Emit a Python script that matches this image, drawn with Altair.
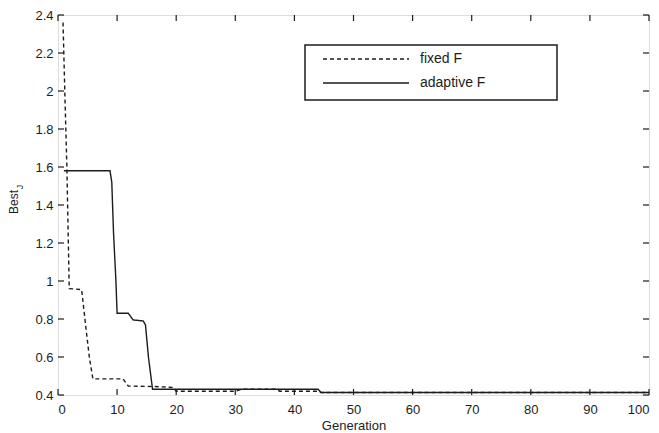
import altair as alt
import pandas as pd

fixed_gen = [0.85, 1.2, 1.5, 1.9, 4.0, 4.7, 5.3, 5.9, 11.0, 11.9, 16.0, 19.5, 20.0, 30.0, 31.0, 37.0, 37.5, 44.0, 44.5, 100.0]
fixed_val = [2.36, 1.94, 1.6, 0.96, 0.955, 0.76, 0.6, 0.485, 0.485, 0.447, 0.445, 0.44, 0.42, 0.42, 0.43, 0.43, 0.42, 0.42, 0.413, 0.413]
adaptive_gen = [1.0, 8.8, 9.1, 9.4, 9.8, 10.0, 11.9, 12.7, 14.4, 14.8, 15.3, 16.0, 44.0, 44.5, 100.0]
adaptive_val = [1.58, 1.58, 1.52, 1.25, 1.0, 0.83, 0.83, 0.795, 0.79, 0.77, 0.6, 0.43, 0.43, 0.413, 0.413]
series_names = ["fixed F", "adaptive F"]
x_ticks = [0, 10, 20, 30, 40, 50, 60, 70, 80, 90, 100]
y_ticks = [0.4, 0.6, 0.8, 1.0, 1.2, 1.4, 1.6, 1.8, 2.0, 2.2, 2.4]

W, H = 591, 380
INK = "#1c1c1c"
LABEL_FONT = "Liberation Sans Narrow, Liberation Sans, Arial, sans-serif"
TEXT_FONT = "Liberation Sans, Arial, sans-serif"

df = pd.concat([
    pd.DataFrame({"gen": fixed_gen, "val": fixed_val, "series": series_names[0], "order": range(len(fixed_gen))}),
    pd.DataFrame({"gen": adaptive_gen, "val": adaptive_val, "series": series_names[1], "order": range(len(adaptive_gen))}),
])

xs = alt.Scale(domain=[0, 100], nice=False, zero=False)
ys = alt.Scale(domain=[0.4, 2.4], nice=False, zero=False)

x_axis = alt.Axis(
    values=x_ticks, format="d", tickSize=0, domain=False, grid=False, labelOverlap=False,
    labelFont=LABEL_FONT, labelFontSize=13, labelColor=INK, labelPadding=8,
    title="Generation", titleFont=TEXT_FONT, titleFontSize=13, titleFontWeight="normal",
    titleColor=INK, titlePadding=3)
y_axis = alt.Axis(
    values=y_ticks, format="~g", tickSize=0, domain=False, grid=False, labelOverlap=False,
    labelFont=LABEL_FONT, labelFontSize=13, labelColor=INK, labelPadding=5, title="")

lines = alt.Chart(df).mark_line(strokeWidth=1.4, color=INK, clip=True).encode(
    x=alt.X("gen:Q", scale=xs, axis=x_axis, title="Generation"),
    y=alt.Y("val:Q", scale=ys, axis=y_axis, title=""),
    strokeDash=alt.StrokeDash("series:N", scale=alt.Scale(domain=series_names, range=[[4, 3], [1, 0]]), legend=None),
    order="order:Q",
)

xt = pd.DataFrame({"t": x_ticks})
yt = pd.DataFrame({"t": y_ticks})
tick_b = alt.Chart(xt).mark_rule(color=INK, strokeWidth=1.2).encode(
    x=alt.X("t:Q", scale=xs, axis=x_axis, title="Generation"), y=alt.value(H), y2=alt.value(H - 6))
tick_t = alt.Chart(xt).mark_rule(color=INK, strokeWidth=1.2).encode(
    x=alt.X("t:Q", scale=xs, axis=x_axis, title="Generation"), y=alt.value(0), y2=alt.value(6))
tick_l = alt.Chart(yt).mark_rule(color=INK, strokeWidth=1.2).encode(
    y=alt.Y("t:Q", scale=ys, axis=y_axis, title=""), x=alt.value(0), x2=alt.value(6))
tick_r = alt.Chart(yt).mark_rule(color=INK, strokeWidth=1.2).encode(
    y=alt.Y("t:Q", scale=ys, axis=y_axis, title=""), x=alt.value(W), x2=alt.value(W - 6))

box = alt.Chart(pd.DataFrame({"a": [0]})).mark_rect(fill="white", stroke=INK, strokeWidth=1.5).encode(
    x=alt.value(247), x2=alt.value(499), y=alt.value(30), y2=alt.value(85))
leg_df = pd.DataFrame({"series": series_names, "ly": [44, 68]})
leg_lines = alt.Chart(leg_df).mark_rule(color=INK, strokeWidth=1.3).encode(
    x=alt.value(265), x2=alt.value(351), y=alt.Y("ly:Q", scale=None),
    strokeDash=alt.StrokeDash("series:N", scale=alt.Scale(domain=series_names, range=[[5, 4], [1, 0]]), legend=None))
leg_text = alt.Chart(leg_df).mark_text(align="left", baseline="middle", font=TEXT_FONT, fontSize=14, color=INK).encode(
    x=alt.value(362), y=alt.Y("ly:Q", scale=None), text="series:N")

ytitle = alt.Chart(pd.DataFrame({"s": ["Best"]})).mark_text(angle=270, align="center", baseline="middle",
    font=TEXT_FONT, fontSize=12, color=INK).encode(x=alt.value(-44), y=alt.value(187), text="s:N")
ysub = alt.Chart(pd.DataFrame({"s": ["J"]})).mark_text(angle=270, align="center", baseline="middle",
    font=TEXT_FONT, fontSize=9, color=INK).encode(x=alt.value(-38), y=alt.value(172), text="s:N")

chart = alt.layer(lines, tick_b, tick_t, tick_l, tick_r, box, leg_lines, leg_text, ytitle, ysub).properties(
    width=W, height=H,
    autosize=alt.AutoSizeParams(type="none"),
    padding={"left": 50, "top": 7, "right": 2, "bottom": 37},
).configure_view(stroke=INK, strokeWidth=1.5).configure(background="white")

chart.save("out.html", embed_options={"renderer": "svg", "actions": False})
